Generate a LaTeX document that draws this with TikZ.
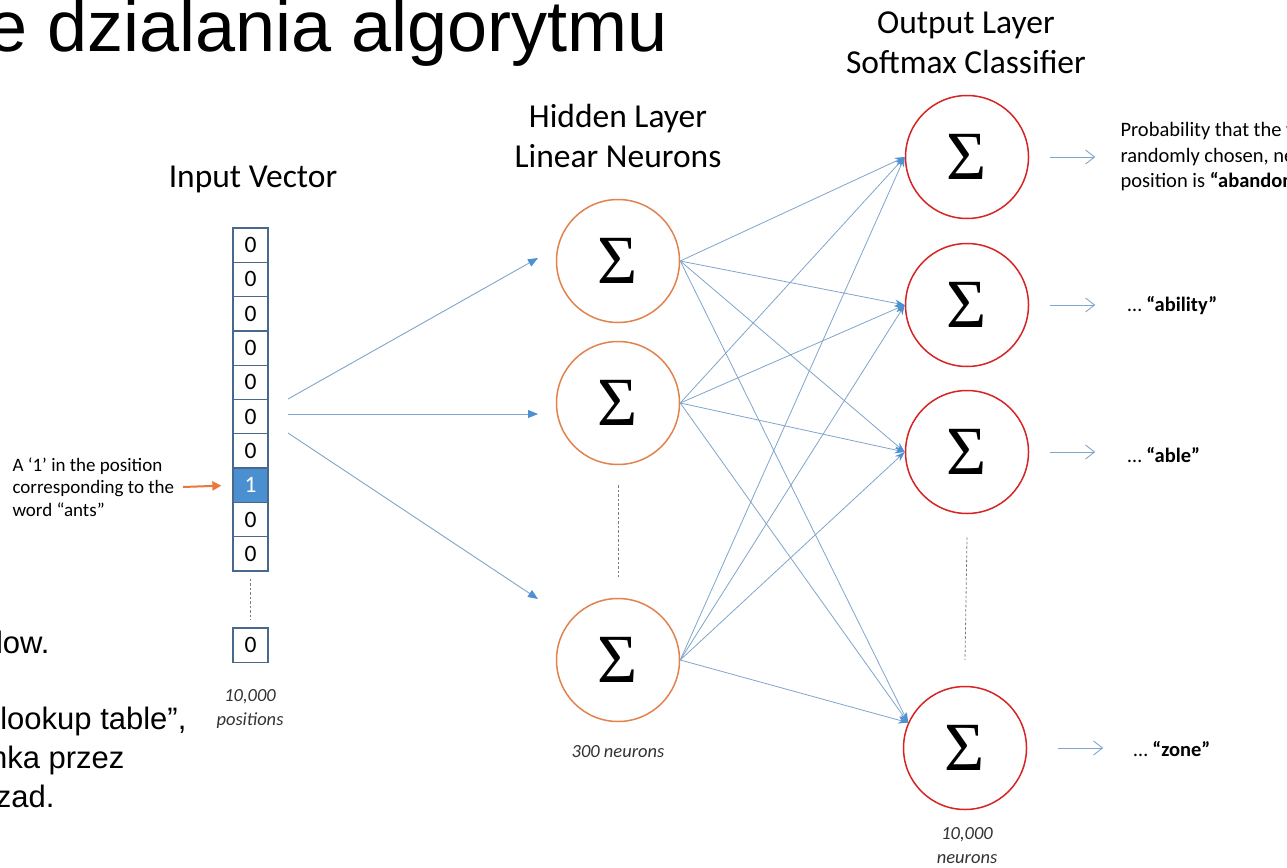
\documentclass[tikz,border=0pt]{standalone}
\usepackage{fontspec}
\setmainfont{Carlito}
\newfontfamily\arialfont{Liberation Sans}
\newfontfamily\sigmafont{Liberation Serif}
\usetikzlibrary{arrows.meta}

\definecolor{linkblue}{RGB}{128,165,204}
\definecolor{tipblue}{RGB}{78,145,210}
\definecolor{boxedge}{RGB}{72,105,140}
\definecolor{cellfill}{RGB}{74,144,208}
\definecolor{hidorange}{RGB}{226,130,78}
\definecolor{outred}{RGB}{214,36,36}
\definecolor{dotgrey}{RGB}{125,125,125}
\definecolor{noteorange}{RGB}{232,120,60}

\newcommand{\sig}{{\sigmafont\fontsize{69}{69}\selectfont Σ}}

\begin{document}
\begin{tikzpicture}[x=1pt,y=-1pt,
  neuron/.style={circle,line width=1.5pt,minimum size=123pt,inner sep=0pt},
  hidden/.style={neuron,draw=hidorange},
  outnode/.style={neuron,draw=outred},
  cell/.style={draw=boxedge,line width=1.3pt,minimum width=35pt,minimum height=34.3pt,
    inner sep=0pt,font=\fontsize{23.5}{23.5}\selectfont},
  feed/.style={draw=linkblue,line width=0.9pt,-{Triangle[length=10pt,width=8pt,color=tipblue]}},
  link/.style={draw=linkblue,line width=0.8pt,-{Stealth[length=10pt,width=7pt,color=tipblue]}},
  result/.style={draw=linkblue,line width=0.9pt,-{Straight Barb[length=9pt,width=14pt]}},
  dots/.style={draw=dotgrey,line width=0.8pt,dash pattern=on 2.5pt off 2pt},
  heading/.style={align=center,font=\fontsize{33.5}{40}\selectfont},
  caption/.style={align=center,font=\itshape\fontsize{18.5}{24}\selectfont,text=black!80},
  slidetext/.style={anchor=base east,font=\arialfont\fontsize{31}{31}\selectfont},
]
\useasboundingbox (0,0) rectangle (1287,867);
\fill[white] (0,0) rectangle (1287,867);
\clip (0,0) rectangle (1287,867);

% slide title and body text
\node[anchor=base east,font=\arialfont\fontsize{72}{72}\selectfont] (title) at (671,52) {e dzialania algorytmu};
\node[slidetext] (t1) at (53,653) {low.};
\node[slidetext] (t2) at (190,729) {lookup table”,};
\node[slidetext] (t3) at (128,768) {nka przez};
\node[slidetext] (t4) at (58,807) {zad.};

% layer headings
\node[heading] (hin) at (253,179) {Input Vector};
\node[heading] (hhid) at (618,136) {Hidden Layer\\Linear Neurons};
\node[heading] (hout) at (966,43) {Output Layer\\Softmax Classifier};

% one-hot input vector
\foreach \i in {1,...,10} {
  \node[cell] (c\i) at (250.5,{228+34.3*(\i-0.5)}) {0};
}
\node[cell,fill=cellfill,text=white] at (c8) {1};
\node[cell] (c11) at (250.5,645) {0};
\draw[dots] (c10.south) ++(0,7) -- ([yshift=7pt]c11.north);
\node[caption] (cin) at (250,709) {10,000\\positions};

% note on the active position
\node[anchor=west,align=left,font=\fontsize{19}{22.5}\selectfont] (note) at (9,487) {A ‘1’ in the position\\corresponding to the\\word “ants”};
\draw[line width=2pt,draw=noteorange,-{Triangle[length=9pt,width=9pt]},shorten >=11pt] (183,487) -- (c8.west);

% hidden layer
\node[hidden] (h1) at (618,261) {\sig};
\node[hidden] (h2) at (618,403) {\sig};
\node[hidden] (h3) at (618,660) {\sig};
\draw[dots] (h2.south) ++(0,20) -- ([yshift=21pt]h3.north);
\node[caption] (chid) at (618,752) {300 neurons};

% output layer
\node[outnode] (o1) at (967,157) {\sig};
\node[outnode] (o2) at (967,305) {\sig};
\node[outnode] (o3) at (967,452) {\sig};
\node[outnode] (o4) at (965,748) {\sig};
\draw[dots] (o3.south) ++(0,23) -- ([yshift=26pt]o4.north);
\node[caption] (cout) at (967,846) {10,000\\neurons};

% input to hidden
\coordinate (s1) at (288,399);
\coordinate (s2) at (288,414);
\coordinate (s3) at (288,433);
\coordinate (e1) at (538,258);
\coordinate (e2) at (538,414);
\coordinate (e3) at (538,599);
\draw[feed] (s1) -- (e1);
\draw[feed] (s2) -- (e2);
\draw[feed] (s3) -- (e3);

% hidden to output, fully connected
\coordinate (i1) at (o1.west);
\coordinate (i2) at (o2.west);
\coordinate (i3) at (o3.west);
\coordinate (i4) at (o4.156);
\foreach \h in {h1,h2,h3} {
  \foreach \o in {i1,i2,i3,i4} {
    \draw[link] (\h.east) -- (\o);
  }
}

% softmax outputs
\foreach \o in {o1,o2,o3} {
  \draw[result] ([xshift=21pt]\o.east) -- ++(45,0);
}
\draw[result] ([xshift=31pt]o4.east) -- ++(45,0);
\node[anchor=west,align=left,font=\fontsize{20.5}{25.5}\selectfont] (p1) at (1117,157)
  {Probability that the word at a\\randomly chosen, nearby\\position is \textbf{“abandon”}};
\node[anchor=west,font=\fontsize{20.5}{25.5}\selectfont] (p2) at (1124,306) {… \textbf{“ability”}};
\node[anchor=west,font=\fontsize{20.5}{25.5}\selectfont] (p3) at (1124,455) {… \textbf{“able”}};
\node[anchor=west,font=\fontsize{20.5}{25.5}\selectfont] (p4) at (1130,749) {… \textbf{“zone”}};
\end{tikzpicture}
\end{document}
